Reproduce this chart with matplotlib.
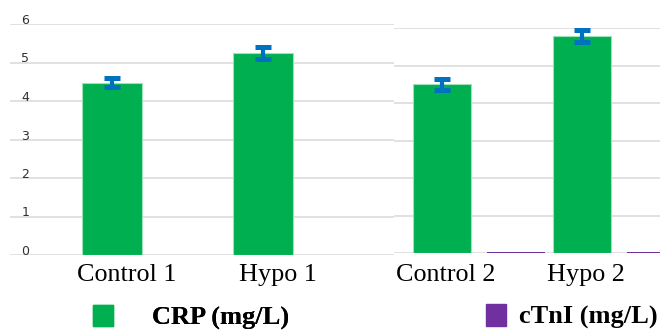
import matplotlib
matplotlib.use("Agg")
import matplotlib.pyplot as plt
from matplotlib.patches import Patch
import numpy as np

# data
groups_1 = ["Control 1", "Hypo 1"]
crp_1 = [4.48, 5.24]
crp_err_1 = [0.12, 0.15]

groups_2 = ["Control 2", "Hypo 2"]
crp_2 = [4.50, 5.79]
crp_err_2 = [0.14, 0.17]
ctni_2 = [0.03, 0.03]

yticks = [0, 1, 2, 3, 4, 5, 6]

green = "#00b050"
purple = "#7030a0"
err_col = "#0070c0"
grid_col = "#d9d9d9"
serif = "Liberation Serif"

fig = plt.figure(figsize=(6.6, 3.34), dpi=100)
ax1 = fig.add_axes([10/660, 1-255/334, 384/660, 231/334])
ax2 = fig.add_axes([394/660, 1-253/334, 266/660, 225/334])

for ax in (ax1, ax2):
    ax.set_ylim(0, 6)
    ax.set_yticks(yticks)
    ax.yaxis.grid(True, color=grid_col, linewidth=1.1)
    ax.set_axisbelow(True)
    for s in ax.spines.values():
        s.set_visible(False)
    ax.tick_params(length=0)
    ax.patch.set_alpha(0)

# left panel
x1 = np.arange(len(groups_1))
ax1.bar(x1, crp_1, width=0.4, color=green, edgecolor="#9ee0b8", linewidth=0.8)
ax1.errorbar(x1, crp_1, yerr=crp_err_1, fmt="none", ecolor=err_col,
             elinewidth=3, capsize=6, capthick=3.6)
ax1.set_xlim(-0.675, 1.87)
ax1.set_xticks(x1 + 0.1)
ax1.set_xticklabels(groups_1, fontfamily=serif, fontsize=18.8)
ax1.tick_params(axis="x", pad=6.5)
ax1.tick_params(axis="y", pad=-14, labelsize=9, labelcolor="#303030")
for lab in ax1.get_yticklabels():
    lab.set_va("baseline")

# right panel
x2 = np.arange(len(groups_2))
ax2.bar(x2, crp_2, width=0.414, color=green, edgecolor="#9ee0b8", linewidth=0.8)
ax2.bar(x2 + 0.53, ctni_2, width=0.414, color=purple)
ax2.errorbar(x2, crp_2, yerr=crp_err_2, fmt="none", ecolor=err_col,
             elinewidth=3, capsize=6, capthick=3.6)
ax2.set_xlim(-0.343, 1.557)
ax2.set_xticks(x2 + 0.03)
ax2.set_xticklabels(groups_2, fontfamily=serif, fontsize=18.8)
ax2.tick_params(axis="x", pad=8)
ax2.tick_params(axis="y", labelleft=False)

fprop = {"family": serif, "weight": "bold", "size": 19}
leg1 = fig.legend(handles=[Patch(color=green)], labels=["CRP (mg/L)"],
                  loc="center left", bbox_to_anchor=(93/660, 0.05),
                  frameon=False, prop=fprop, handlelength=0.75,
                  handleheight=0.9, handletextpad=1.5,
                  borderpad=0, borderaxespad=0)
fig.legend(handles=[Patch(color=purple)], labels=["cTnI (mg/L)"],
           loc="center left", bbox_to_anchor=(486/660, 0.052),
           frameon=False, prop=fprop, handlelength=0.75,
           handleheight=0.9, handletextpad=0.5,
           borderpad=0, borderaxespad=0)
fig.add_artist(leg1)

fig.savefig("out.png", dpi=100)
